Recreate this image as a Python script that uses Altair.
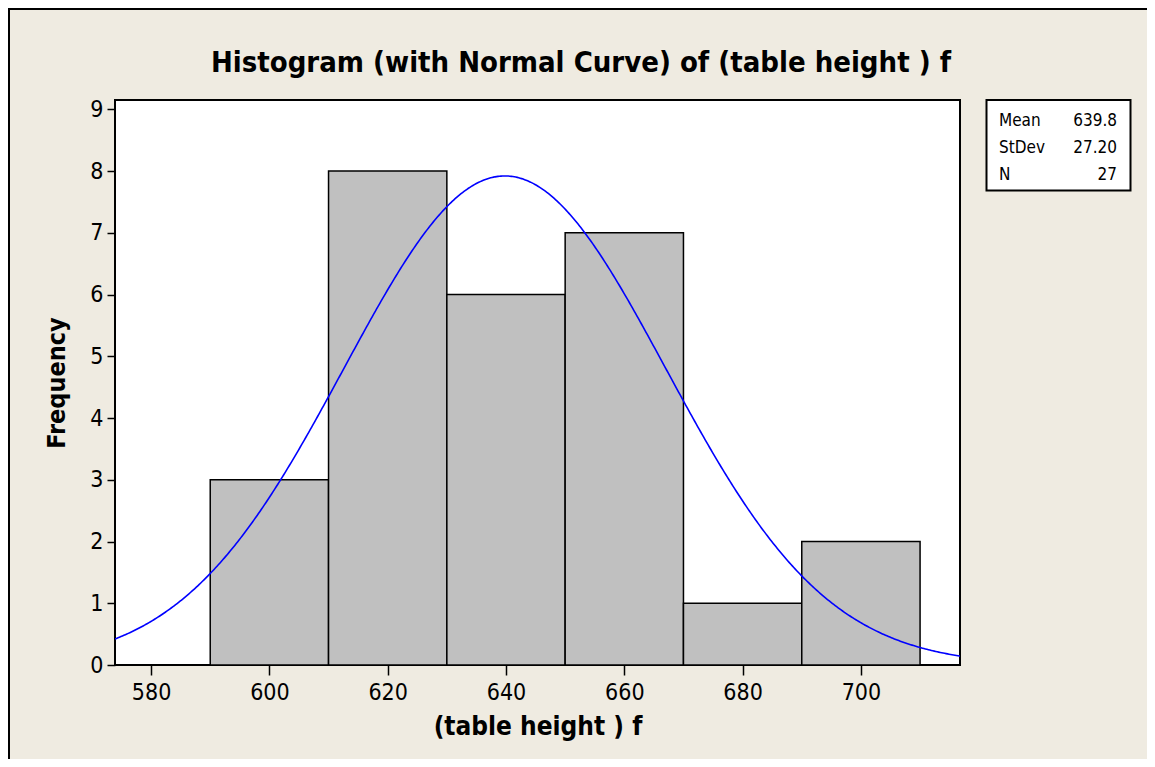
import altair as alt
import pandas as pd

# ---- data ----
bin_start = [590, 610, 630, 650, 670, 690]
bin_end = [610, 630, 650, 670, 690, 710]
counts = [3, 8, 6, 7, 1, 2]
stat_names = ["Mean", "StDev", "N"]
stat_values = ["639.8", "27.20", "27"]
mean_val = 639.8
sd_val = 27.20
n_val = 27
bin_width = 20
x_ticks = [580, 600, 620, 640, 660, 680, 700]
y_ticks = [0, 1, 2, 3, 4, 5, 6, 7, 8, 9]
x_domain = [573.9, 716.75]
y_domain = [0, 9.15]
title_text = "Histogram (with Normal Curve) of (table height ) f"

# ---- layout ----
W, H = 845, 565
FONT = "DejaVu Sans Condensed, DejaVu Sans"
BG = "#EFEBE1"
PAD = {"left": 107, "top": 92, "right": 187, "bottom": 94}

bars_df = pd.DataFrame({"start": bin_start, "end": bin_end, "count": counts})

xscale = alt.Scale(domain=x_domain, nice=False, zero=False)
yscale = alt.Scale(domain=y_domain, nice=False)

xaxis = alt.Axis(values=x_ticks, grid=False, domain=False, tickSize=10, tickColor="black",
                 tickWidth=1.5, labelFontSize=23, labelFont=FONT, labelColor="black",
                 labelPadding=6, labelFlush=False, titleFontSize=26, titleFont=FONT,
                 titleFontWeight="bold", titlePadding=9, titleColor="black", format="d")
yaxis = alt.Axis(values=y_ticks, grid=False, domain=False, tickSize=8, tickColor="black",
                 tickWidth=1.5, labelFontSize=23, labelFont=FONT, labelColor="black",
                 labelPadding=4, labelFlush=False, titleFontSize=25, titleFont=FONT,
                 titleFontWeight="bold", titlePadding=20, titleColor="black", format="d")

bars = alt.Chart(bars_df).mark_rect(fill="#C0C0C0", stroke="black", strokeWidth=1.5).encode(
    x=alt.X("start:Q", scale=xscale, axis=xaxis, title="(table height ) f"),
    x2="end:Q",
    y=alt.Y("count:Q", scale=yscale, axis=yaxis, title="Frequency"),
    y2=alt.datum(0),
)

curve = (
    alt.Chart(alt.sequence(x_domain[0], x_domain[1] + 0.5, 0.25, as_="x"))
    .transform_calculate(
        y=f"{n_val * bin_width}/({sd_val}*sqrt(2*PI))*exp(-0.5*pow((datum.x-{mean_val})/{sd_val},2))"
    )
    .mark_line(color="#0000FF", strokeWidth=1.6, clip=True)
    .encode(x=alt.X("x:Q", scale=xscale), y=alt.Y("y:Q", scale=yscale))
)

one = pd.DataFrame({"a": [0]})
box = alt.Chart(one).mark_rect(fill="white", stroke="black", strokeWidth=2).encode(
    x=alt.value(871.5), x2=alt.value(1015.5), y=alt.value(0), y2=alt.value(90.5)
)

title_mark = alt.Chart(pd.DataFrame({"t": [title_text]})).mark_text(
    align="center", baseline="alphabetic", font=FONT, fontSize=29, fontWeight="bold", color="black"
).encode(text="t:N", x=alt.value(466), y=alt.value(-28))

layers = [bars, curve, box, title_mark]
row_base = [26, 53, 79.5]
for i, (nm, vv) in enumerate(zip(stat_names, stat_values)):
    d = pd.DataFrame({"k": [nm], "v": [vv]})
    layers.append(
        alt.Chart(d).mark_text(align="left", baseline="alphabetic", font=FONT, fontSize=17, color="black")
        .encode(text="k:N", x=alt.value(884), y=alt.value(row_base[i]))
    )
    layers.append(
        alt.Chart(d).mark_text(align="right", baseline="alphabetic", font=FONT, fontSize=17, color="black")
        .encode(text="v:N", x=alt.value(1002), y=alt.value(row_base[i]))
    )

frame_left = alt.Chart(one).mark_rule(color="black", strokeWidth=2).encode(
    x=alt.value(-106), y=alt.value(-93), y2=alt.value(659)
)
frame_top = alt.Chart(one).mark_rule(color="black", strokeWidth=2).encode(
    x=alt.value(-107), x2=alt.value(1032), y=alt.value(-91)
)
layers += [frame_left, frame_top]

chart = (
    alt.layer(*layers)
    .properties(
        width=W,
        height=H,
        autosize=alt.AutoSizeParams(type="none"),
        padding=PAD,
    )
    .configure(background=BG)
    .configure_view(stroke="black", strokeWidth=2, fill="white")
)

chart.save("out.html", embed_options={"renderer": "svg", "actions": False})
